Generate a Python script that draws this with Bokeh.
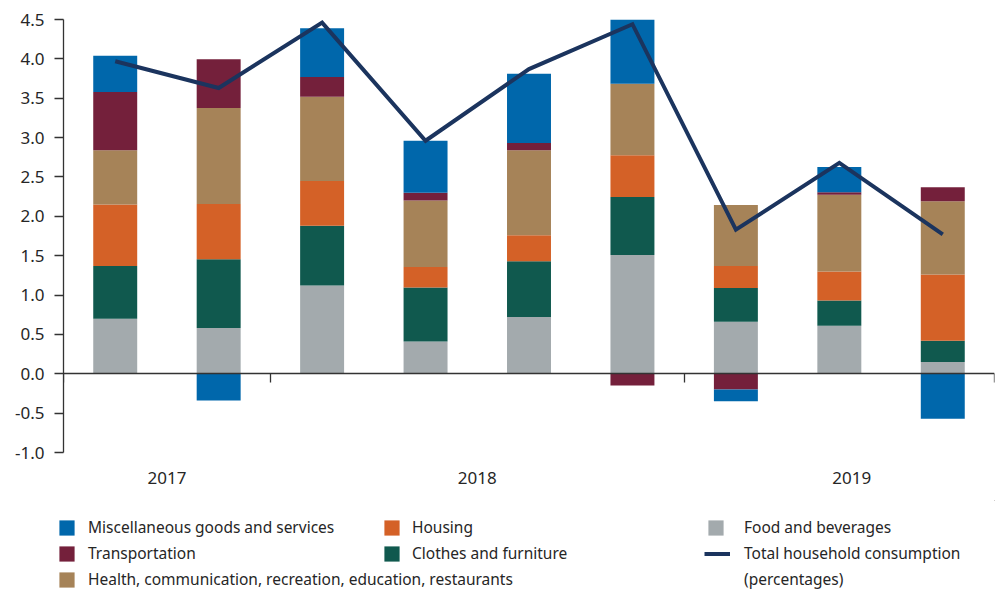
import numpy as np
from bokeh.plotting import figure
from bokeh.layouts import column, row
from bokeh.models import (Range1d, FixedTicker, NumeralTickFormatter, LinearAxis,
                          Legend, LegendItem)
from bokeh.embed import file_html
from bokeh.resources import INLINE

# ---------------- data ----------------
quarters = ["2017 Q3", "2017 Q4", "2018 Q1", "2018 Q2", "2018 Q3", "2018 Q4",
            "2019 Q1", "2019 Q2", "2019 Q3"]
years = ["2017", "2018", "2019"]
quarters_per_year = [2, 4, 3]

food = [0.70, 0.58, 1.12, 0.41, 0.72, 1.51, 0.66, 0.61, 0.15]
clothes = [0.67, 0.875, 0.76, 0.685, 0.71, 0.735, 0.43, 0.32, 0.27]
housing = [0.78, 0.70, 0.57, 0.26, 0.33, 0.53, 0.28, 0.37, 0.84]
health = [0.69, 1.22, 1.07, 0.845, 1.08, 0.91, 0.775, 0.975, 0.93]
transport = [0.74, 0.62, 0.25, 0.10, 0.09, -0.15, -0.20, 0.03, 0.18]
misc = [0.46, -0.34, 0.62, 0.66, 0.88, 0.85, -0.15, 0.32, -0.57]
total = [3.97, 3.63, 4.46, 2.96, 3.87, 4.44, 1.83, 2.68, 1.77]

y_ticks = [-1.0, -0.5, 0.0, 0.5, 1.0, 1.5, 2.0, 2.5, 3.0, 3.5, 4.0, 4.5]

# ---------------- style ----------------
FONT = "Noto Sans"
TXT = "#262626"
C_MISC = "#0067AB"
C_TRANS = "#74203B"
C_HEALTH = "#A68358"
C_HOUSING = "#D46127"
C_CLOTHES = "#10594E"
C_FOOD = "#A3AAAD"
C_TOTAL = "#1B345E"

n = len(quarters)
x = np.arange(n) + 0.5

p = figure(width=1000, height=500, x_range=Range1d(0, n), y_range=Range1d(-1, 4.5),
           output_backend="svg", toolbar_location=None,
           min_border_left=63, min_border_right=6, min_border_top=19, min_border_bottom=48)
p.outline_line_color = None
p.xgrid.visible = False
p.ygrid.visible = False

# stacked bars with separate positive / negative stacking
series = [("Food and beverages", food, C_FOOD),
          ("Clothes and furniture", clothes, C_CLOTHES),
          ("Housing", housing, C_HOUSING),
          ("Health, communication, recreation, education, restaurants", health, C_HEALTH),
          ("Transportation", transport, C_TRANS),
          ("Miscellaneous goods and services", misc, C_MISC)]
pos = np.zeros(n)
neg = np.zeros(n)
for name, vals, col in series:
    v = np.array(vals, dtype=float)
    bottom = np.where(v >= 0, pos, neg)
    top = bottom + v
    pos = np.where(v >= 0, top, pos)
    neg = np.where(v < 0, top, neg)
    p.vbar(x=x, width=0.425, bottom=bottom, top=top, fill_color=col, line_color=None)

p.line(x, total, line_color=C_TOTAL, line_width=4, line_join="miter")

# y axis
ya = p.yaxis[0]
ya.ticker = FixedTicker(ticks=y_ticks)
ya.formatter = NumeralTickFormatter(format="0.0")
ya.major_tick_out = 9
ya.major_tick_in = 0
ya.minor_tick_line_color = None
ya.axis_line_color = "#333333"
ya.axis_line_width = 1.3
ya.major_tick_line_color = "#333333"
ya.major_tick_line_width = 1.3
ya.major_label_standoff = 10
ya.major_label_text_font = FONT
ya.major_label_text_font_size = "17px"
ya.major_label_text_color = TXT

# x axis drawn at y = 0 with separators between years
bounds = np.concatenate([[0], np.cumsum(quarters_per_year)]).tolist()
xa = p.xaxis[0]
xa.fixed_location = 0
xa.ticker = FixedTicker(ticks=bounds)
xa.major_tick_out = 9
xa.major_tick_in = 0
xa.minor_tick_line_color = None
xa.axis_line_color = "#333333"
xa.axis_line_width = 1.3
xa.major_tick_line_color = "#333333"
xa.major_tick_line_width = 1.3
xa.major_label_overrides = {b: "" for b in bounds}
xa.major_label_standoff = 0

# year labels
year_pos = [1.0, 4.0, 7.62]
yr_axis = LinearAxis(ticker=FixedTicker(ticks=year_pos),
                     major_label_overrides={pp: yy for pp, yy in zip(year_pos, years)},
                     axis_line_color=None, major_tick_line_color=None,
                     minor_tick_line_color=None, major_tick_out=0, major_tick_in=0,
                     major_label_standoff=19, major_label_text_font=FONT,
                     major_label_text_font_size="17px", major_label_text_color=TXT)
p.add_layout(yr_axis, "below")

# ---------------- legend panel ----------------
LB = 50
lf = figure(width=1000, height=90, x_range=Range1d(0, 1), y_range=Range1d(0, 1),
            output_backend="svg", toolbar_location=None,
            x_axis_location=None, y_axis_location=None,
            min_border_left=LB, min_border_right=6, min_border_top=0, min_border_bottom=0)
lf.outline_line_color = None
lf.xgrid.visible = False
lf.ygrid.visible = False

# legend-key proxies, kept outside the visible ranges of the legend panel
def swatch(col):
    return lf.vbar(x=[5], top=[5], bottom=[4], width=0.1, fill_color=col, line_color=None)

s_misc = swatch(C_MISC)
s_trans = swatch(C_TRANS)
s_health = swatch(C_HEALTH)
s_housing = swatch(C_HOUSING)
s_clothes = swatch(C_CLOTHES)
s_food = swatch(C_FOOD)
s_total = lf.line(x=[5, 6], y=[5, 5], line_color=C_TOTAL, line_width=4)
s_blank = lf.line(x=[5, 6], y=[5, 5], line_alpha=0)

def mk_legend(items, loc, gw, standoff):
    lg = Legend(items=items, location=loc, orientation="vertical",
                glyph_width=gw, glyph_height=19, label_height=22, label_width=20,
                spacing=4, padding=0, margin=0, label_standoff=standoff,
                border_line_color=None, background_fill_alpha=0,
                label_text_font=FONT, label_text_font_size="15.5px",
                label_text_color=TXT)
    lf.add_layout(lg)
    return lg

mk_legend([LegendItem(label="Miscellaneous goods and services", renderers=[s_misc]),
           LegendItem(label="Transportation", renderers=[s_trans]),
           LegendItem(label="Health, communication, recreation, education, restaurants",
                      renderers=[s_health])],
          (57 - LB, 0), 19, 12)
mk_legend([LegendItem(label="Housing", renderers=[s_housing]),
           LegendItem(label="Clothes and furniture", renderers=[s_clothes])],
          (382 - LB, 26), 19, 11)
mk_legend([LegendItem(label="Food and beverages", renderers=[s_food])],
          (706 - LB, 52), 19, 19)
mk_legend([LegendItem(label="Total household consumption", renderers=[s_total]),
           LegendItem(label="(percentages)", renderers=[s_blank])],
          (704 - LB, 0), 26, 14)

layout = column(p, row(lf, spacing=0), spacing=0)
open("out.html", "w").write(file_html(layout, INLINE))
